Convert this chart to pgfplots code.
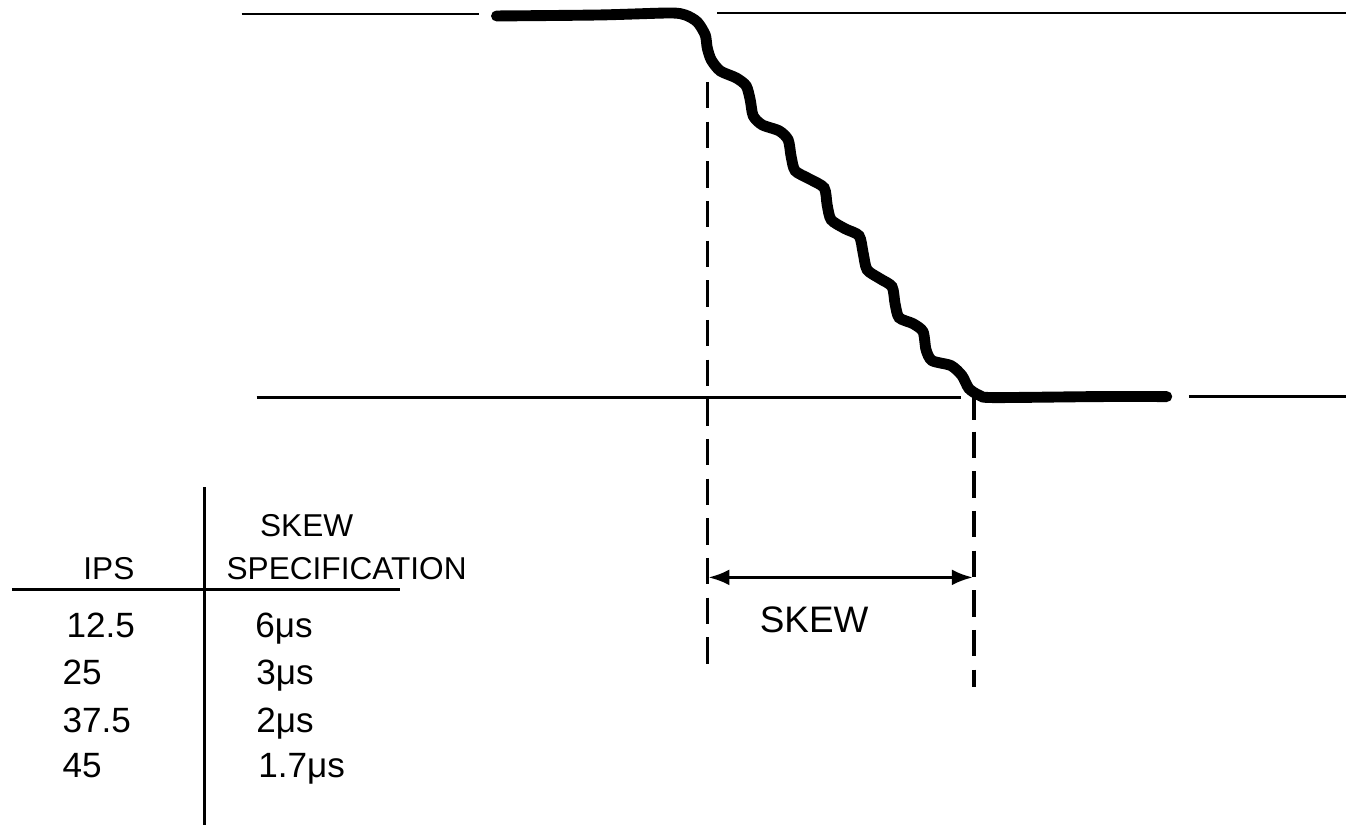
\documentclass[border=0pt]{standalone}
\usepackage{fontspec}
\setmainfont{Liberation Sans}
\usepackage{pgfplots}
\pgfplotsset{compat=1.18}
\usetikzlibrary{arrows.meta}
\begin{document}
\begin{tikzpicture}
\begin{axis}[
  width=13.47cm, height=8.26cm, scale only axis,
  xmin=0, xmax=1347, ymin=0, ymax=826, y dir=reverse,
  hide axis, clip=false]
% bounding corners
\addplot[draw=none] coordinates {(0,0) (1347,826)};
% thin reference lines
\addplot[black, line width=0.8pt] coordinates {(242,14) (480,14)};
\addplot[black, line width=0.8pt] coordinates {(718,13) (1347,13)};
\addplot[black, line width=0.8pt] coordinates {(257,398) (962,398)};
\addplot[black, line width=0.8pt] coordinates {(1190,397) (1347,397)};
% thick skewed signal
\addplot[black, line width=3.1pt, line cap=round, smooth, tension=0.45] coordinates {
(497,16) (600,15) (670,13) (686,15) (698,22) (706,35) (708,48) (712,60) (721,71)
(737,78) (747,86) (751,100) (754,116) (763,125) (780,131) (789,140) (792,157)
(796,171) (810,179) (825,188) (828,205) (832,220) (846,229) (860,236) (864,253)
(868,270) (881,279) (893,287) (896,304) (900,318) (914,324) (924,332) (927,350)
(933,361) (952,366) (963,376) (970,389) (981,396) (995,398) (1100,397) (1168,397)};
% dashed guides
\addplot[black, line width=0.9pt, dash pattern=on 7.5pt off 3.8pt] coordinates {(708,82) (708,672)};
\addplot[black, line width=0.9pt] coordinates {(975,398) (975,420)};
\addplot[black, line width=0.9pt, dash pattern=on 7.5pt off 3.8pt] coordinates {(975,432) (975,688)};
% skew arrow
\addplot[black, line width=0.9pt, {Latex[length=6pt,width=4.5pt]}-{Latex[length=6pt,width=4.5pt]}] coordinates {(709,578) (974,578)};
\node[anchor=base, font=\fontsize{10.5}{12}\selectfont, inner sep=0pt] at (axis cs:815,633) {SKEW};
% table rules
\addplot[black, line width=0.9pt] coordinates {(205,488) (205,826)};
\addplot[black, line width=0.9pt] coordinates {(12,590) (400,590)};
% table header
\node[anchor=base, font=\fontsize{9}{11}\selectfont, inner sep=0pt] at (axis cs:109,580) {IPS};
\node[anchor=base, font=\fontsize{9}{11}\selectfont, inner sep=0pt] at (axis cs:307,537) {SKEW};
\node[anchor=base, font=\fontsize{9}{11}\selectfont, inner sep=0pt] at (axis cs:347,580) {SPECIFICATION};
% table rows
\node[anchor=base west, font=\fontsize{10}{12}\selectfont, inner sep=0pt] at (axis cs:66,638) {12.5};
\node[anchor=base west, font=\fontsize{10}{12}\selectfont, inner sep=0pt] at (axis cs:62,685) {25};
\node[anchor=base west, font=\fontsize{10}{12}\selectfont, inner sep=0pt] at (axis cs:62,733) {37.5};
\node[anchor=base west, font=\fontsize{10}{12}\selectfont, inner sep=0pt] at (axis cs:62,778) {45};
\node[anchor=base west, font=\fontsize{10}{12}\selectfont, inner sep=0pt] at (axis cs:255,638) {6μs};
\node[anchor=base west, font=\fontsize{10}{12}\selectfont, inner sep=0pt] at (axis cs:256,685) {3μs};
\node[anchor=base west, font=\fontsize{10}{12}\selectfont, inner sep=0pt] at (axis cs:256,733) {2μs};
\node[anchor=base west, font=\fontsize{10}{12}\selectfont, inner sep=0pt] at (axis cs:258,778) {1.7μs};
\end{axis}
\end{tikzpicture}
\end{document}
